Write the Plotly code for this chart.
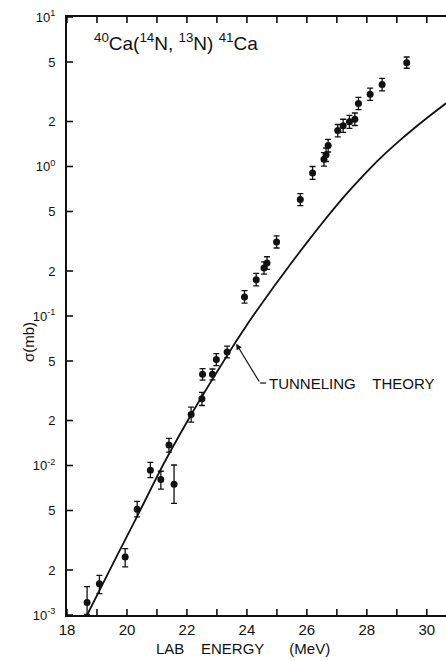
import math
import plotly.graph_objects as go

# Measured 40Ca(14N,13N)41Ca cross sections (lab energy in MeV, sigma in mb)
energy = [18.67, 19.08, 19.94, 20.34, 20.78, 21.13, 21.40, 21.57, 22.14, 22.50,
          22.52, 22.85, 22.98, 23.34, 23.92, 24.31, 24.57, 24.67, 24.99, 25.78,
          26.19, 26.57, 26.64, 26.71, 27.03, 27.21, 27.42, 27.60, 27.72, 28.11,
          28.51, 29.33]
sigma = [0.00121, 0.00162, 0.00244, 0.00509, 0.00929, 0.00805, 0.0137, 0.00748,
         0.0219, 0.0280, 0.0407, 0.0407, 0.0511, 0.0574, 0.134, 0.175, 0.2095,
         0.226, 0.313, 0.601, 0.905, 1.117, 1.20, 1.38, 1.74, 1.87, 1.99, 2.07,
         2.64, 3.04, 3.53, 4.95]
err_hi = [0.00034, 0.00022, 0.00034, 0.00066, 0.0012, 0.0011, 0.0015, 0.0026,
          0.0027, 0.0028, 0.0038, 0.0035, 0.0050, 0.0055, 0.014, 0.018, 0.021,
          0.023, 0.031, 0.058, 0.095, 0.12, 0.13, 0.14, 0.17, 0.20, 0.21, 0.21,
          0.26, 0.30, 0.35, 0.45]
err_lo = [0.0002, 0.00023, 0.00034, 0.00056, 0.0010, 0.0011, 0.0014, 0.0019,
          0.0024, 0.0028, 0.0035, 0.0033, 0.0045, 0.0050, 0.012, 0.016, 0.019,
          0.021, 0.028, 0.053, 0.085, 0.11, 0.12, 0.13, 0.16, 0.18, 0.19, 0.19,
          0.24, 0.27, 0.32, 0.41]

# Tunneling-theory prediction
theory_energy = [18.67, 19.5, 20.34, 21.22, 22.0, 22.5, 23.0, 23.61, 24.11, 24.55,
                 24.92, 25.5, 26.0, 26.5, 27.0, 27.5, 28.11, 28.6, 29.11, 29.6,
                 30.11, 30.64]
theory_sigma = [0.0010, 0.00214, 0.00457, 0.01023, 0.01954, 0.02891, 0.04227,
                0.0662, 0.0940, 0.1256, 0.1592, 0.2286, 0.3097, 0.4159, 0.5521,
                0.7194, 0.9727, 1.213, 1.500, 1.816, 2.193, 2.649]

# Axis ticks (labels on even MeV, tick marks on every MeV)
x_tickvals = [18, 20, 22, 24, 26, 28, 30]
x_ticktext = ["18", "20", "22", "24", "26", "28", "30"]
x_minor = list(range(18, 31))
y_tickvals = [0.001, 0.002, 0.005, 0.01, 0.02, 0.05, 0.1, 0.2, 0.5, 1, 2, 5, 10]
y_ticktext = ["10<sup>-3</sup>", "2", "5", "10<sup>-2</sup>", "2", "5",
              "10<sup>-1</sup>", "2", "5", "10<sup>0</sup>", "2", "5", "10<sup>1</sup>"]
X_RANGE = [18, 30.64]
Y_RANGE_LOG = [-3, 1]

FONT = "Liberation Sans, Arial, sans-serif"
INK = "#111111"
PLOT_W = 446 - 67
PLOT_H = 661 - 17 - 46
TICK_LEN = 6  # px

# Leader for the theory label: kink point, arrow head, text start
LEADER_KINK = (24.44, 0.0356)
LEADER_HEAD = (23.64, 0.0653)
LABEL_START = (24.66, 0.0356)

fig = go.Figure()

# inward tick marks on bottom, top and left edges, drawn as line segments
x_lo, x_hi = X_RANGE
y_lo, y_hi = 10 ** Y_RANGE_LOG[0], 10 ** Y_RANGE_LOG[1]
dx_tick = TICK_LEN * (x_hi - x_lo) / PLOT_W
dlog_tick = TICK_LEN * (Y_RANGE_LOG[1] - Y_RANGE_LOG[0]) / PLOT_H

tick_x, tick_y = [], []
for e in x_minor:
    tick_x += [e, e, None, e, e, None]
    tick_y += [y_lo, y_lo * 10 ** dlog_tick, None, y_hi, y_hi / 10 ** dlog_tick, None]
for v in y_tickvals:
    tick_x += [x_lo, x_lo + dx_tick, None]
    tick_y += [v, v, None]
fig.add_trace(go.Scatter(
    x=tick_x, y=tick_y, mode="lines", line=dict(color=INK, width=1.6),
    hoverinfo="skip", showlegend=False, connectgaps=False,
))

fig.add_trace(go.Scatter(
    x=theory_energy, y=theory_sigma, mode="lines",
    line=dict(color=INK, width=1.8, shape="spline", smoothing=0.6),
    hoverinfo="skip", showlegend=False,
))

fig.add_trace(go.Scatter(
    x=energy, y=sigma, mode="markers",
    marker=dict(color=INK, size=7, symbol="circle"),
    error_y=dict(type="data", symmetric=False, array=err_hi, arrayminus=err_lo,
                 color=INK, thickness=1.3, width=3),
    showlegend=False,
))

# short horizontal stub of the leader line
fig.add_trace(go.Scatter(
    x=[LEADER_KINK[0], LABEL_START[0] - 0.02], y=[LEADER_KINK[1], LABEL_START[1]],
    mode="lines", line=dict(color=INK, width=1.2), hoverinfo="skip", showlegend=False,
))

# slanted part of the leader with its arrow head on the curve
fig.add_annotation(
    x=LEADER_HEAD[0], y=math.log10(LEADER_HEAD[1]),
    ax=LEADER_KINK[0], ay=math.log10(LEADER_KINK[1]), axref="x", ayref="y",
    xref="x", yref="y", text="", showarrow=True,
    arrowhead=2, arrowsize=1, arrowwidth=1.2, arrowcolor=INK,
)
fig.add_annotation(
    x=LABEL_START[0], y=math.log10(LABEL_START[1]), xref="x", yref="y",
    text="TUNNELING\u00a0\u00a0\u00a0\u00a0THEORY", showarrow=False,
    xanchor="left", yanchor="middle", font=dict(family=FONT, size=15, color=INK),
)

# reaction label
fig.add_annotation(
    x=0.066, y=0.958, xref="paper", yref="paper",
    text="<sup>40</sup>Ca(<sup>14</sup>N,\u00a0<sup>13</sup>N)\u00a0<sup>41</sup>Ca",
    showarrow=False, xanchor="left", yanchor="middle",
    font=dict(family=FONT, size=19, color=INK),
)

# axis titles
fig.add_annotation(
    x=(242.5 - 67) / PLOT_W, y=-(648 - 615) / PLOT_H, xref="paper", yref="paper",
    text="LAB\u00a0\u00a0\u00a0\u00a0ENERGY\u00a0\u00a0\u00a0\u00a0\u00a0\u00a0(MeV)",
    showarrow=False, xanchor="center", yanchor="middle",
    font=dict(family=FONT, size=15, color=INK),
)
fig.add_annotation(
    x=-(67 - 28.5) / PLOT_W, y=(615 - 342.5) / PLOT_H, xref="paper", yref="paper",
    text="σ(mb)", textangle=-90, showarrow=False,
    xanchor="center", yanchor="middle",
    font=dict(family=FONT, size=15, color=INK),
)

fig.update_layout(
    xaxis=dict(
        range=X_RANGE, tickvals=x_tickvals, ticktext=x_ticktext,
        ticks="", showline=True, linewidth=2, linecolor=INK, mirror=True,
        showgrid=False, zeroline=False, ticklabelstandoff=0,
        tickfont=dict(family=FONT, size=15, color=INK),
    ),
    yaxis=dict(
        type="log", range=Y_RANGE_LOG, tickvals=y_tickvals, ticktext=y_ticktext,
        ticks="", showline=True, linewidth=2, linecolor=INK,
        showgrid=False, zeroline=False, ticklabelstandoff=7,
        tickfont=dict(family=FONT, size=13, color=INK),
    ),
    width=446, height=661,
    margin=dict(l=67, r=0, t=17, b=46),
    paper_bgcolor="white", plot_bgcolor="white",
    showlegend=False,
)

fig.write_html("out.html")
